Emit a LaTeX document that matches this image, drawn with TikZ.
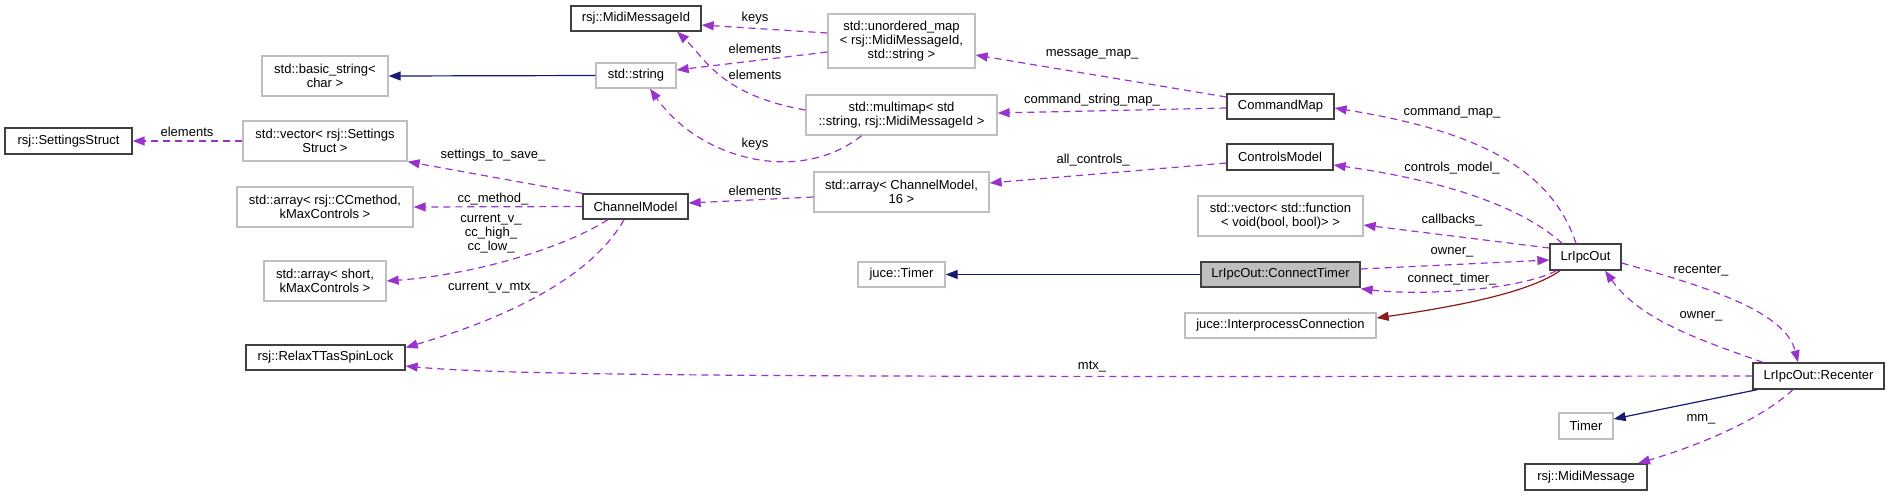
\documentclass[tikz,border=0pt]{standalone}
\usepackage{fontspec}
\setmainfont{Liberation Sans}
\usetikzlibrary{arrows.meta}
\definecolor{dorchid}{HTML}{9A32CD}
\definecolor{mblue}{HTML}{191970}
\definecolor{fbrick}{HTML}{8B1A1A}
\definecolor{boxgrey}{HTML}{BFBFBF}
\definecolor{boxdark}{HTML}{404040}
\newcommand\dfont{\fontsize{13}{14}\selectfont}
\tikzset{
  cls/.style={draw=boxdark, line width=1.3pt, fill=white, inner sep=0pt, align=center, font=\dfont},
  ext/.style={draw=boxgrey, line width=1.3pt, fill=white, inner sep=0pt, align=center, font=\dfont},
  cur/.style={draw=boxdark, line width=1.3pt, fill=boxgrey, inner sep=0pt, align=center, font=\dfont},
  dep/.style={draw=dorchid, line width=1.2pt, dash pattern=on 7pt off 5pt, -{Triangle[length=12pt,width=9pt]}},
  inh/.style={draw=mblue, line width=1.2pt, -{Triangle[length=12pt,width=9pt]}},
  prv/.style={draw=fbrick, line width=1.2pt, -{Triangle[length=12pt,width=9pt]}},
  lbl/.style={font=\dfont, inner sep=0pt, align=center, text=black}
}
\begin{document}
\begin{tikzpicture}[x=1pt,y=-1pt]
\useasboundingbox (0,0) rectangle (1889,496);
% nodes
\node[cls, minimum width=127pt, minimum height=26pt] (sets) at (68.5,141) {rsj::SettingsStruct};
\node[ext, minimum width=164pt, minimum height=40pt] (vecs) at (325,141) {std::vector< rsj::Settings\\Struct >};
\node[ext, minimum width=126pt, minimum height=40pt] (bstr) at (325,76) {std::basic\_string<\\char >};
\node[ext, minimum width=176pt, minimum height=40pt] (arrcc) at (325,207) {std::array< rsj::CCmethod,\\kMaxControls >};
\node[ext, minimum width=122pt, minimum height=40pt] (arrsh) at (325,281) {std::array< short,\\kMaxControls >};
\node[cls, minimum width=159pt, minimum height=25pt] (relax) at (325.5,357.5) {rsj::RelaxTTasSpinLock};
\node[cls, minimum width=130pt, minimum height=25pt] (mid) at (636,18.5) {rsj::MidiMessageId};
\node[ext, minimum width=80pt, minimum height=25pt] (str) at (636,75.5) {std::string};
\node[ext, minimum width=147pt, minimum height=54pt] (umap) at (901.5,41) {std::unordered\_map\\< rsj::MidiMessageId,\\std::string >};
\node[ext, minimum width=191pt, minimum height=40pt] (mmap) at (901.5,115) {std::multimap< std\\::string, rsj::MidiMessageId >};
\node[cls, minimum width=105pt, minimum height=25pt] (chm) at (635.5,206.5) {ChannelModel};
\node[ext, minimum width=175pt, minimum height=40pt] (arrcm) at (901.5,192) {std::array< ChannelModel,\\16 >};
\node[cls, minimum width=107pt, minimum height=25pt] (cmap) at (1280.5,106.5) {CommandMap};
\node[cls, minimum width=106pt, minimum height=26pt] (ctrl) at (1280,157) {ControlsModel};
\node[ext, minimum width=165pt, minimum height=40pt] (vecf) at (1280.5,216) {std::vector< std::function\\< void(bool, bool)> >};
\node[ext, minimum width=87pt, minimum height=25pt] (jtim) at (901.5,274.5) {juce::Timer};
\node[cur, minimum width=159pt, minimum height=25pt] (ctim) at (1280.5,274.5) {LrIpcOut::ConnectTimer};
\node[cls, minimum width=71pt, minimum height=26pt] (lro) at (1585.5,257) {LrIpcOut};
\node[ext, minimum width=191pt, minimum height=25pt] (ipc) at (1280.5,325.5) {juce::InterprocessConnection};
\node[cls, minimum width=131pt, minimum height=26pt] (rec) at (1818.5,376) {LrIpcOut::Recenter};
\node[ext, minimum width=54pt, minimum height=26pt] (tim) at (1586,426) {Timer};
\node[cls, minimum width=122pt, minimum height=26pt] (mmsg) at (1586,477) {rsj::MidiMessage};
% edges
\draw[dep] (vecs.west) -- (sets.east) node[lbl] at (187,132) {elements};
\draw[inh] (str.west) -- (bstr.east);
\draw[dep] ([yshift=8pt]umap.west) -- ([yshift=-6.5pt]mid.east) node[lbl] at (755,18) {keys};
\draw[dep] ([yshift=-11pt]umap.west) -- ([yshift=5.5pt]str.east) node[lbl] at (755,49) {elements};
\draw[dep] ([yshift=5pt]mmap.west) .. controls (720,95) and (705,58) .. ([xshift=41pt]mid.south) node[lbl] at (755,75) {elements};
\draw[dep] ([xshift=-40pt]mmap.south) .. controls (800,185) and (700,160) .. ([xshift=14pt]str.south) node[lbl] at (755,144) {keys};
\draw[dep] ([yshift=9.5pt]cmap.west) -- ([yshift=-14pt]umap.east) node[lbl] at (1092,54) {message\_map\_};
\draw[dep] ([yshift=-1.5pt]cmap.west) -- ([yshift=2pt]mmap.east) node[lbl] at (1092,100) {command\_string\_map\_};
\draw[dep] ([yshift=-6pt]ctrl.west) -- ([yshift=9pt]arrcm.east) node[lbl] at (1093,160) {all\_controls\_};
\draw[dep] ([yshift=-5pt]arrcm.west) -- ([yshift=3.5pt]chm.east) node[lbl] at (755,191) {elements};
\draw[dep] (chm.north west) -- (vecs.south east) node[lbl] at (493,155) {settings\_to\_save\_};
\draw[dep] (chm.west) -- (arrcc.east) node[lbl] at (493,199) {cc\_method\_};
\draw[dep] ([xshift=-27.5pt]chm.south) .. controls (560,250) and (470,275) .. (arrsh.east) node[lbl] at (491,234) {current\_v\_\\cc\_high\_\\cc\_low\_};
\draw[dep] ([xshift=-11.5pt]chm.south) .. controls (590,280) and (500,320) .. ([yshift=10pt]relax.east) node[lbl] at (493,288) {current\_v\_mtx\_};
\draw[dep] (rec.west) .. controls (900,377) and (520,377) .. ([yshift=-8.5pt]relax.east) node[lbl] at (1092,367) {mtx\_};
\draw[dep] ([xshift=-9.5pt]lro.north) .. controls (1550,165) and (1470,130) .. ([yshift=-1.5pt]cmap.east) node[lbl] at (1452,112) {command\_map\_};
\draw[dep] ([xshift=-23.5pt]lro.north) .. controls (1520,205) and (1440,180) .. ([yshift=-8pt]ctrl.east) node[lbl] at (1452,168) {controls\_model\_};
\draw[dep] ([yshift=9pt]lro.west) -- ([yshift=-9pt]vecf.east) node[lbl] at (1452,220) {callbacks\_};
\draw[dep] ([yshift=5.5pt]ctim.east) -- ([yshift=-3pt]lro.west) node[lbl] at (1452,252) {owner\_};
\draw[dep] ([xshift=7pt]lro.south west) .. controls (1520,290) and (1420,296) .. ([yshift=-1pt]ctim.south east) node[lbl] at (1452,279) {connect\_timer\_};
\draw[prv] ([xshift=-25.5pt]lro.south) .. controls (1530,292) and (1460,306) .. ([yshift=7.5pt]ipc.east);
\draw[inh] (ctim.west) -- (jtim.east);
\draw[dep] ([yshift=-6pt]lro.east) .. controls (1700,285) and (1785,310) .. ([xshift=-20.5pt]rec.north) node[lbl] at (1701,271) {recenter\_};
\draw[dep] ([xshift=-55.5pt]rec.north) .. controls (1700,340) and (1640,320) .. ([xshift=19.5pt]lro.south) node[lbl] at (1701,316) {owner\_};
\draw[inh] ([xshift=5pt]rec.south west) -- ([yshift=7pt]tim.east);
\draw[dep] ([xshift=-25.5pt]rec.south) .. controls (1760,420) and (1700,445) .. ([xshift=52pt]mmsg.north) node[lbl] at (1701,419) {mm\_};
\end{tikzpicture}
\end{document}
